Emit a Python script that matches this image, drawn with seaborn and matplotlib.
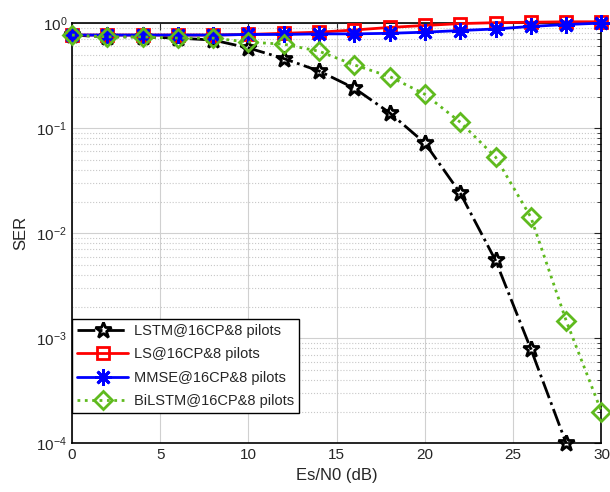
import numpy as np
import seaborn as sns
import matplotlib
matplotlib.use("Agg")
import matplotlib.pyplot as plt
from matplotlib.ticker import LogLocator, NullFormatter

# SNR axis (dB)
snr = [0, 2, 4, 6, 8, 10, 12, 14, 16, 18, 20, 22, 24, 26, 28, 30]

# SER values
ser_lstm = [0.77, 0.74, 0.74, 0.72, 0.69, 0.58, 0.46, 0.35, 0.24, 0.14,
            0.072, 0.024, 0.0055, 0.00079, 0.0001]
ser_ls = [0.77, 0.77, 0.77, 0.77, 0.77, 0.78, 0.80, 0.82, 0.86, 0.91,
          0.95, 0.99, 1.01, 1.02, 1.03, 1.03]
ser_mmse = [0.77, 0.77, 0.77, 0.77, 0.77, 0.78, 0.78, 0.79, 0.79, 0.80,
            0.82, 0.85, 0.88, 0.93, 0.97, 1.0]
ser_bilstm = [0.77, 0.74, 0.74, 0.72, 0.72, 0.66, 0.63, 0.54, 0.40, 0.31,
              0.21, 0.114, 0.053, 0.0142, 0.00147, 0.0002]

labels = ["LSTM@16CP&8 pilots", "LS@16CP&8 pilots",
          "MMSE@16CP&8 pilots", "BiLSTM@16CP&8 pilots"]

sns.set_style("white")
plt.rcParams['font.family'] = ['Liberation Sans', 'DejaVu Sans']

fig, ax = plt.subplots(figsize=(6.1, 4.92), dpi=100)
fig.subplots_adjust(left=0.118, right=0.986, top=0.953, bottom=0.099)

green = '#5fba1e'
common = dict(ax=ax, linewidth=2, markerfacecolor='none', markeredgewidth=2,
              clip_on=False, zorder=3)
sns.lineplot(x=snr[:len(ser_lstm)], y=ser_lstm, color='black', linestyle='-.',
             marker='*', markersize=12, markeredgecolor='black',
             label=labels[0], **common)
sns.lineplot(x=snr, y=ser_ls, color='red', linestyle='-',
             marker='s', markersize=9, markeredgecolor='red',
             label=labels[1], **common)
sns.lineplot(x=snr, y=ser_mmse, color='blue', linestyle='-',
             marker=(8, 2, 0), markersize=12, markeredgecolor='blue',
             label=labels[2], **common)
sns.lineplot(x=snr, y=ser_bilstm, color=green, linestyle=':',
             marker='D', markersize=9, markeredgecolor=green,
             label=labels[3], **common)

ax.set_yscale('log')
ax.set_ylim(1e-4, 1)
ax.set_xlim(0, 30)
ax.set_xticks([0, 5, 10, 15, 20, 25, 30])
ax.yaxis.set_major_locator(LogLocator(base=10, numticks=10))
ax.yaxis.set_minor_locator(LogLocator(base=10, subs=np.arange(2, 10), numticks=50))
ax.yaxis.set_minor_formatter(NullFormatter())

ax.grid(which='major', color='#d0d0d0', linestyle='-', linewidth=0.8)
ax.grid(which='minor', axis='y', color='#c8c8c8', linestyle=':', linewidth=0.8)
ax.set_axisbelow(True)

for s in ax.spines.values():
    s.set_color('black')
    s.set_linewidth(1.2)
ax.tick_params(which='both', direction='in', top=True, right=True,
               labelsize=11, colors='#262626', labelcolor='#262626')
ax.tick_params(which='major', length=5)
ax.tick_params(which='minor', length=3)

ax.set_xlabel("Es/N0 (dB)", fontsize=12, color='#262626', labelpad=4)
ax.set_ylabel("SER", fontsize=12, color='#262626', labelpad=6)

leg = ax.legend(loc='lower left', bbox_to_anchor=(0.0, 0.071), borderaxespad=0,
                fontsize=10.5, frameon=True, fancybox=False,
                edgecolor='black', framealpha=1, handlelength=3.5,
                handletextpad=0.4, labelspacing=0.65, borderpad=0.35)
leg.get_frame().set_linewidth(1.0)

fig.savefig("out.png", dpi=100)
